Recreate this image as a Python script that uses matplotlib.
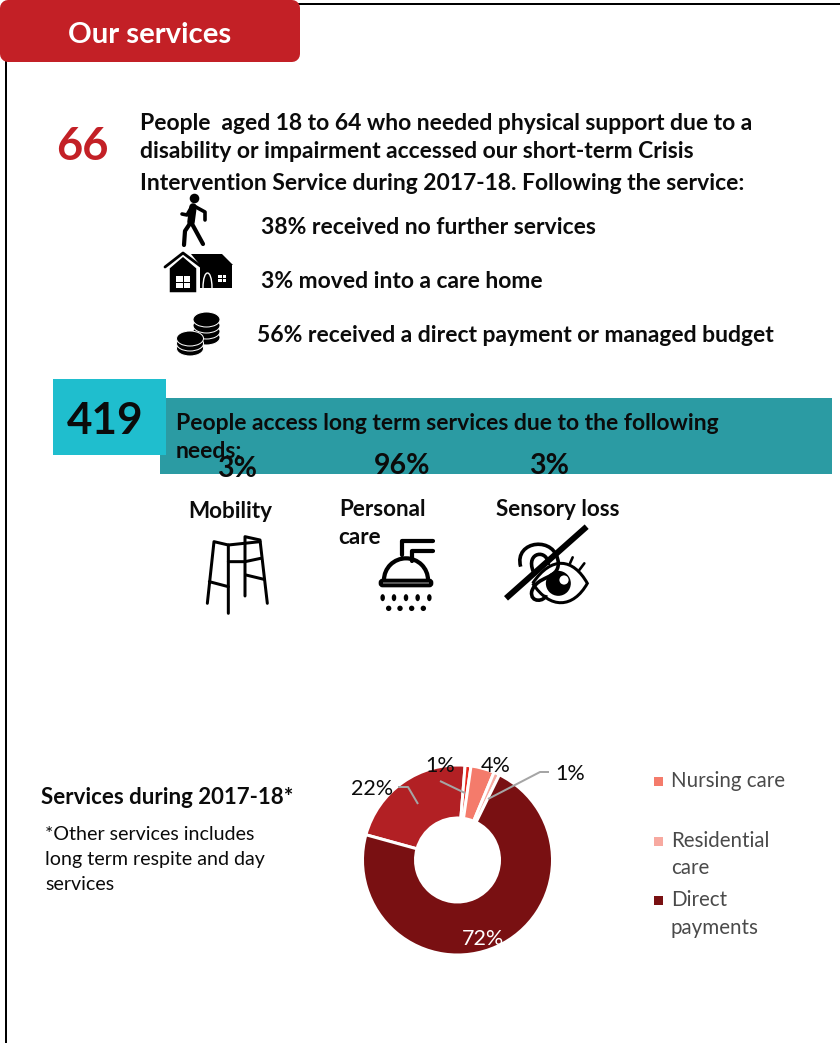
import matplotlib
matplotlib.use("Agg")
import matplotlib.pyplot as plt
from matplotlib.patches import Rectangle, FancyBboxPatch, Circle, Ellipse, Polygon, Arc, PathPatch
from matplotlib.path import Path

plt.rcParams['font.family'] = ['Lato', 'DejaVu Sans']

# Service mix for the doughnut, clockwise from the small red slice
service_names = ["Other", "Short-term", "Nursing care", "Residential care", "Direct payments"]
service_shares = [22, 1, 4, 1, 72]
service_colours = ["#B22024", "#E8281E", "#F47B6B", "#F7A9A0", "#791012"]

crisis_total = 66
crisis_outcomes = ["38% received no further services",
                   "3% moved into a care home",
                   "56% received a direct payment or managed budget"]
longterm_total = 419
need_labels = ["Mobility", "Personal\ncare", "Sensory loss"]
need_shares = [3, 96, 3]

RED = "#C32026"
INK = "#0B0B0B"
W, H = 840, 1043
BODY = 16.5
LABEL = 16.2

fig = plt.figure(figsize=(W / 100, H / 100), dpi=100, facecolor="white")
ax = fig.add_axes([0, 0, 1, 1])
ax.set_xlim(0, W)
ax.set_ylim(H, 0)
ax.axis("off")


def pts(px):
    return px * 0.72


def txt(x, y, s, size, weight="bold", color=INK, ha="left", va="center", z=5):
    return ax.text(x, y + 1, s, fontsize=size, fontweight=weight, color=color, ha=ha, va=va, zorder=z)


def poly(points, width, color="black", z=4, cap="round", join="round"):
    xs, ys = zip(*points)
    ax.plot(xs, ys, color=color, lw=pts(width), solid_capstyle=cap, solid_joinstyle=join, zorder=z)


# Page frame and header tab
poly([(6, 1043), (6, 4), (840, 4)], 2, z=1, cap="butt", join="miter")
ax.add_patch(FancyBboxPatch((8, 8), 284, 46, boxstyle="round,pad=0,rounding_size=0", fc=RED, ec=RED, lw=pts(16),
                            joinstyle="round", zorder=2))
txt(149.5, 34, "Our services", 21.2, color="white", ha="center")

# Crisis intervention block
txt(56, 146, str(crisis_total), 32.5, color=RED)
body_lines = ["People  aged 18 to 64 who needed physical support due to a",
              "disability or impairment accessed our short-term Crisis",
              "Intervention Service during 2017-18. Following the service:"]
for y, line in zip([123, 151, 182], body_lines):
    txt(140, y, line, BODY)
for (x, y), line in zip([(261, 226.5), (261, 280.5), (257, 334.5)], crisis_outcomes):
    txt(x, y, line, BODY)

# Walking figure
ax.add_patch(Circle((194.5, 198.5), 4.8, fc="black", ec="none", zorder=4))
poly([(193, 207), (191, 222)], 7.5)
poly([(194, 206), (205, 212), (205, 220)], 3.6)
poly([(191, 208), (187, 215), (182, 214)], 3.6)
poly([(191, 222), (185, 231), (184, 245)], 4.2)
poly([(191, 222), (203, 244)], 4.2)

# House icon
ax.add_patch(Polygon([(191, 254), (222, 254), (233, 265), (232, 265), (232, 288), (200, 288), (200, 265)],
                     fc="black", ec="none", zorder=3))
ax.add_patch(Polygon([(169, 268), (183, 256), (197, 268), (197, 293), (169, 293)], fc="black", ec="white",
                     lw=pts(1.5), zorder=4))
poly([(165, 267), (183, 253), (203, 268)], 2.8, z=5)
for wx, wy, ww, wh in [(176, 276, 6.5, 5.5), (183.5, 276, 6.5, 5.5), (176, 282.5, 6.5, 5.5), (183.5, 282.5, 6.5, 5.5),
                       (218, 275, 3.7, 3), (222.5, 275, 3.7, 3), (218, 279, 3.7, 3), (222.5, 279, 3.7, 3)]:
    ax.add_patch(Rectangle((wx, wy), ww, wh, fc="white", ec="none", zorder=6))
ax.add_patch(PathPatch(Path([(203, 288), (203, 268), (212, 268), (212, 288)],
                            [Path.MOVETO, Path.CURVE4, Path.CURVE4, Path.CURVE4]),
                       fc="black", ec="white", lw=pts(1.4), zorder=6))

# Coin stacks
for coin_x, top, n, step in [(206.5, 319.5, 4, 6), (190, 338.5, 3, 5)]:
    for i in range(n - 1, -1, -1):
        ax.add_patch(Ellipse((coin_x, top + i * step), 27, 15, fc="black", ec="white", lw=pts(1.0), zorder=4))

# Long-term services banner
ax.add_patch(Rectangle((160, 398), 672, 76, fc="#2B9BA3", ec="none", zorder=1))
ax.add_patch(Rectangle((53, 379), 113, 76, fc="#1FBECE", ec="none", zorder=2))
txt(105.5, 419.5, str(longterm_total), 31.7, ha="center")
txt(176, 423, "People access long term services due to the following", BODY)
txt(176, 450.5, "needs:", BODY)

# Needs: share above, name below
share_xy = [(237, 468), (402, 465), (549, 465)]
for (x, y), share in zip(share_xy, need_shares):
    txt(x, y, f"{share}%", 20.5, ha="center", z=6)
txt(230, 510.5, need_labels[0], LABEL, ha="center")
first, second = need_labels[1].split("\n")
txt(339, 508.5, first, LABEL)
txt(338, 536.5, second, LABEL)
txt(558, 508, need_labels[2], LABEL, ha="center")


def z3(points):
    """Convert icon points drawn on a 3x grid to page pixels."""
    return [(190 + x / 3, 520 + y / 3) for x, y in points]


# Walking frame
for seg in ([(52, 250), (72, 65), (115, 75), (115, 280)],
            [(165, 228), (165, 50), (210, 60), (232, 250)],
            [(115, 75), (210, 65)],
            [(115, 125), (165, 125), (212, 115)],
            [(58, 185), (115, 200)],
            [(168, 165), (222, 178)]):
    poly(z3(seg), 3)

# Shower head
poly(z3([(728, 62), (635, 62), (635, 105)]), 4.2)
poly(z3([(728, 92), (665, 92), (665, 122)]), 4.2)
ax.add_patch(Arc((190 + 648 / 3, 520 + 180 / 3), 132 / 3, 130 / 3, theta1=180, theta2=360, ec="black",
                 lw=pts(4.2), zorder=4))
ax.add_patch(FancyBboxPatch((190 + 572 / 3, 520 + 182 / 3), 152 / 3, 14 / 3, boxstyle="round,pad=0,rounding_size=2",
                            fc="white", ec="black", lw=pts(4), zorder=4))
for dx in (578, 612, 648, 683, 718):
    ax.add_patch(Ellipse((190 + dx / 3, 520 + 233 / 3), 4.5, 7, fc="black", ec="none", zorder=4))
for dx in (596, 630, 665, 700):
    ax.add_patch(Circle((190 + dx / 3, 520 + 265 / 3), 2.7, fc="black", ec="none", zorder=4))

# Sensory loss: ear, eye and a strike through
ear = Path(z3([(992, 140), (970, 60), (1100, 45), (1105, 130), (1105, 180), (1040, 165), (1025, 215),
               (1020, 250), (1065, 245), (1068, 225)]),
           [Path.MOVETO, Path.CURVE4, Path.CURVE4, Path.CURVE4, Path.CURVE4, Path.CURVE4, Path.CURVE4,
            Path.CURVE4, Path.CURVE4, Path.CURVE4])
ax.add_patch(PathPatch(ear, fc="none", ec="black", lw=pts(3.6), zorder=4))
inner = Path(z3([(1030, 155), (1005, 95), (1075, 85), (1075, 135)]),
             [Path.MOVETO, Path.CURVE4, Path.CURVE4, Path.CURVE4])
ax.add_patch(PathPatch(inner, fc="none", ec="black", lw=pts(3.6), zorder=4))
eye = Path(z3([(1028, 190), (1085, 105), (1150, 115), (1192, 190), (1150, 265), (1080, 270), (1028, 190)]),
           [Path.MOVETO, Path.CURVE4, Path.CURVE4, Path.CURVE4, Path.CURVE4, Path.CURVE4, Path.CURVE4])
ax.add_patch(PathPatch(eye, fc="none", ec="black", lw=pts(3), zorder=4))
ax.add_patch(Circle((190 + 1105 / 3, 520 + 190 / 3), 12.5, fc="black", ec="none", zorder=5))
ax.add_patch(Circle((190 + 1122 / 3, 520 + 180 / 3), 4.6, fc="white", ec="none", zorder=6))
poly(z3([(1140, 130), (1148, 112)]), 2.6)
poly(z3([(1168, 150), (1183, 130)]), 2.6)
poly(z3([(948, 235), (1190, 20)]), 6, z=7, cap="butt")

# Doughnut heading and note
txt(41, 796.5, "Services during 2017-18*", 16)
for y, line in zip([833, 858, 884], ["*Other services includes", "long term respite and day", "services"]):
    txt(45, y, line, 14.1, weight="normal")

# Doughnut, centred at page pixel (457.5, 860) with a 95 px radius
cx, cy, r = 457.5, 860, 95
pie_ax = fig.add_axes([(cx - r) / W, 1 - (cy + r) / H, 2 * r / W, 2 * r / H])
pie_ax.pie(service_shares, colors=service_colours, startangle=90 + 74.6, counterclock=False, radius=1,
           wedgeprops=dict(width=1 - 42 / 95, edgecolor="white", linewidth=pts(3)))
pie_ax.set_xlim(-1, 1)
pie_ax.set_ylim(-1, 1)
pie_ax.set_zorder(0)
ax.set_zorder(1)
ax.patch.set_alpha(0)

# Callouts for the doughnut
GREY = "#A5A5A5"
poly([(398, 787), (408, 787), (418, 804)], 2, color=GREY, cap="butt", z=4)
poly([(440, 781), (465, 793)], 2, color=GREY, cap="butt", z=4)
poly([(549, 772), (540, 772), (488, 799)], 2, color=GREY, cap="butt", z=4)
label_xy = [(372, 788), (440, 765), (496, 765), (570, 773), (483, 938)]
for (x, y), share in zip(label_xy, service_shares):
    txt(x, y, f"{share}%", 15.5, weight="normal", ha="center",
        color="white" if share == max(service_shares) else INK)

# Legend
TEXT_GREY = "#4A4A4A"
legend_rows = [(781, [(780, "Nursing care")], service_colours[2]),
               (841, [(840, "Residential"), (867, "care")], service_colours[3]),
               (900, [(899, "Direct"), (927, "payments")], service_colours[4])]
for sq_y, lines, colour in legend_rows:
    ax.add_patch(Rectangle((654, sq_y - 4.5), 9, 9, fc=colour, ec="none", zorder=4))
    for y, line in lines:
        txt(671, y, line, 14.8, weight="normal", color=TEXT_GREY)

fig.savefig("out.png", dpi=100, facecolor="white")
